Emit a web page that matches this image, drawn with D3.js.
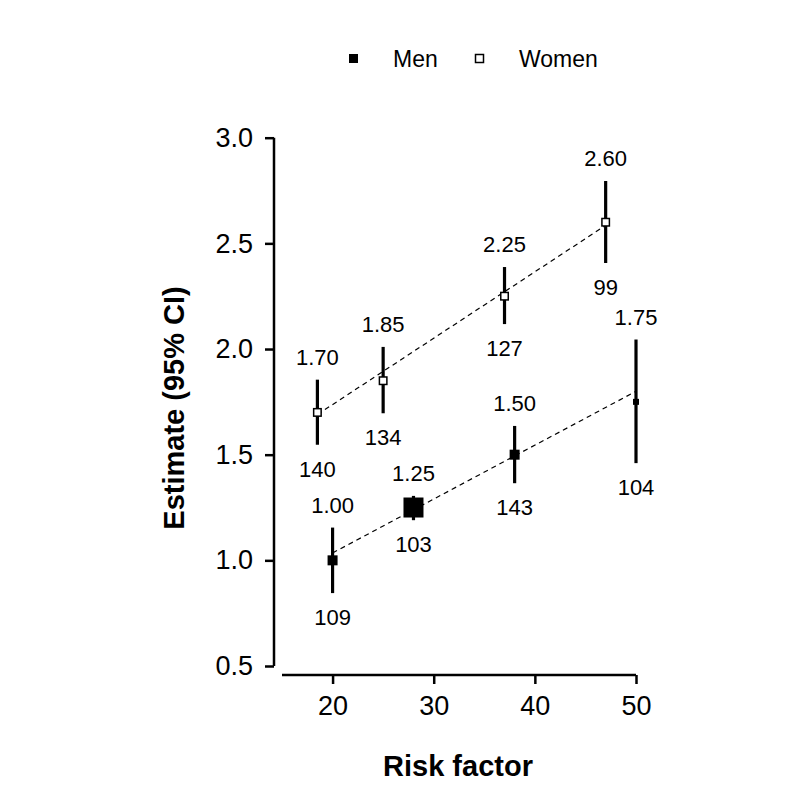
<html>
<head>
<meta charset="utf-8">
<title>Risk factor estimates</title>
<script src="https://cdn.jsdelivr.net/npm/d3@7"></script>
<style>
    body { margin: 0; background: #fff; }
    text { font-family: "Liberation Sans", Arial, Helvetica, sans-serif; fill: #000; }
</style>
</head>
<body>
<svg id="chart" width="800" height="800"></svg>
<script>
    // men
    var menX = [20, 28, 38, 50];
    var menEst = [1.00, 1.25, 1.50, 1.75];
    var menLo = [0.845, 1.19, 1.365, 1.46];
    var menHi = [1.155, 1.305, 1.636, 2.045];
    var menN = [109, 103, 143, 104];
    var menWeight = [1, 4, 1, 0.36];
    var menFit = [[20, 1.035], [50, 1.80]];

    // women
    var womenX = [18.5, 25, 37, 47];
    var womenEst = [1.70, 1.85, 2.25, 2.60];
    var womenLo = [1.547, 1.696, 2.118, 2.407];
    var womenHi = [1.855, 2.01, 2.388, 2.795];
    var womenN = [140, 134, 127, 99];
    var womenWeight = [0.56, 0.56, 0.56, 0.56];
    var womenFit = [[18.5, 1.69], [47, 2.585]];

    var xTicks = [20, 30, 40, 50];
    var yTicks = [0.5, 1.0, 1.5, 2.0, 2.5, 3.0];

    var svg = d3.select("#chart");

    var x = d3.scaleLinear().domain([15, 50]).range([282, 636]);
    var y = d3.scaleLinear().domain([0.5, 3.0]).range([666, 137.7]);
    var size = d3.scaleSqrt().domain([0, 1]).range([0, 10]);

    // y axis
    var yAxis = svg.append("g")
        .attr("transform", "translate(274,0)")
        .call(d3.axisLeft(y).tickValues(yTicks).tickFormat(d3.format(".1f")).tickSize(9).tickPadding(12));
    // x axis
    var xAxis = svg.append("g")
        .attr("transform", "translate(0,675)")
        .call(d3.axisBottom(x).tickValues(xTicks).tickSize(9).tickPadding(12));

    [yAxis, xAxis].forEach(function(ax) {
        ax.select(".domain").attr("stroke-width", 2.5).attr("stroke", "#000");
        ax.selectAll(".tick line").attr("stroke-width", 2.5).attr("stroke", "#000");
        ax.selectAll(".tick text").style("font-size", "27px").style("font-family", "Liberation Sans, Arial, sans-serif").attr("fill", "#000");
    });
    // remove the outer ticks of the domain paths
    yAxis.select(".domain").attr("d", "M0," + y(0.5) + "V" + y(3.0));
    xAxis.select(".domain").attr("d", "M" + x(15) + ",0H" + x(50));

    // axis titles
    svg.append("text")
        .attr("transform", "translate(184,408) rotate(-90)")
        .attr("text-anchor", "middle")
        .style("font-size", "29px")
        .style("font-weight", "bold")
        .text("Estimate (95% CI)");
    svg.append("text")
        .attr("x", 458).attr("y", 776)
        .attr("text-anchor", "middle")
        .style("font-size", "29px")
        .style("font-weight", "bold")
        .text("Risk factor");

    function drawGroup(xs, est, lo, hi, ns, w, fit, filled) {
        var g = svg.append("g");

        g.append("line")
            .attr("x1", x(fit[0][0])).attr("y1", y(fit[0][1]))
            .attr("x2", x(fit[1][0])).attr("y2", y(fit[1][1]))
            .attr("stroke", "#000")
            .attr("stroke-width", 1.2)
            .attr("stroke-dasharray", "5,4");

        var pts = xs.map(function(d, i) {
            return { x: d, est: est[i], lo: lo[i], hi: hi[i], n: ns[i], w: w[i] };
        });

        var p = g.selectAll(".pt").data(pts).enter().append("g").attr("class", "pt");

        p.append("line")
            .attr("x1", function(d) { return x(d.x); })
            .attr("x2", function(d) { return x(d.x); })
            .attr("y1", function(d) { return y(d.lo); })
            .attr("y2", function(d) { return y(d.hi); })
            .attr("stroke", "#000")
            .attr("stroke-width", 3.2);

        p.append("rect")
            .attr("x", function(d) { return x(d.x) - size(d.w) / 2; })
            .attr("y", function(d) { return y(d.est) - size(d.w) / 2; })
            .attr("width", function(d) { return size(d.w); })
            .attr("height", function(d) { return size(d.w); })
            .attr("fill", filled ? "#000" : "#fff")
            .attr("stroke", "#000")
            .attr("stroke-width", filled ? 0 : 1.5);

        p.append("text")
            .attr("x", function(d) { return x(d.x); })
            .attr("y", function(d) { return y(d.hi) - 15; })
            .attr("text-anchor", "middle")
            .style("font-size", "22px")
            .text(function(d) { return d3.format(".2f")(d.est); });

        p.append("text")
            .attr("x", function(d) { return x(d.x); })
            .attr("y", function(d) { return y(d.lo) + 32; })
            .attr("text-anchor", "middle")
            .style("font-size", "22px")
            .text(function(d) { return d.n; });
    }

    drawGroup(menX, menEst, menLo, menHi, menN, menWeight, menFit, true);
    drawGroup(womenX, womenEst, womenLo, womenHi, womenN, womenWeight, womenFit, false);

    // legend
    var legend = svg.append("g");
    legend.append("rect").attr("x", 349).attr("y", 54).attr("width", 9).attr("height", 9).attr("fill", "#000");
    legend.append("text").attr("x", 393).attr("y", 67).style("font-size", "23px").text("Men");
    legend.append("rect").attr("x", 475.5).attr("y", 54.5).attr("width", 8).attr("height", 8)
        .attr("fill", "#fff").attr("stroke", "#000").attr("stroke-width", 1.5);
    legend.append("text").attr("x", 519).attr("y", 67).style("font-size", "23px").text("Women");
</script>
</body>
</html>
